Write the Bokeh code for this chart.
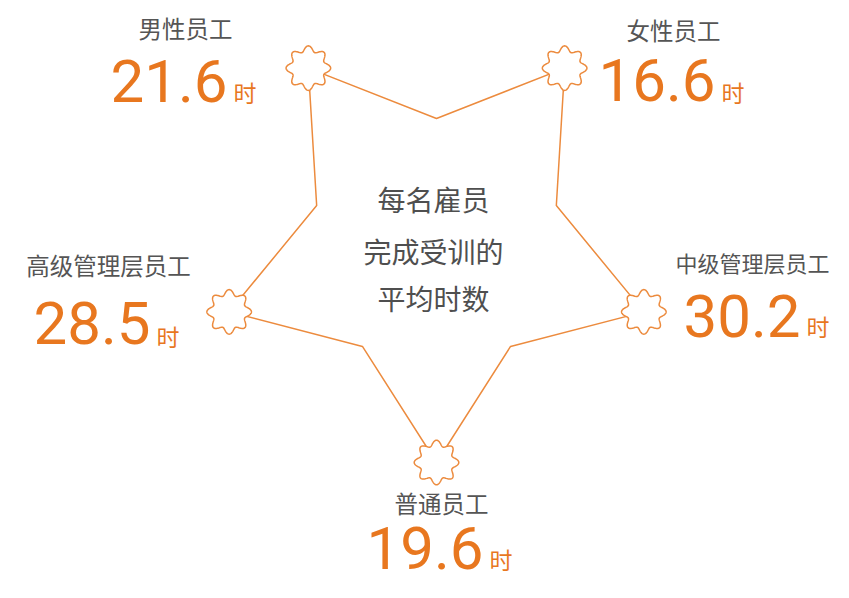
import numpy as np
from bokeh.plotting import figure
from bokeh.models import Range1d, ColumnDataSource
from bokeh.core.properties import value
from bokeh.embed import file_html
from bokeh.resources import INLINE

# ---- data ----
categories = ["男性员工", "女性员工", "中级管理层员工", "普通员工", "高级管理层员工"]
hours = [21.6, 16.6, 30.2, 19.6, 28.5]
unit = "时"
center_lines = ["每名雇员", "完成受训的", "平均时数"]

# ---- styles / layout ----
W, H = 833, 582
ORANGE = "#E8771F"
LINE = "#EC8B3E"
GRAY = "#555555"
CJK = "Noto Sans CJK SC"
NUM = "Roboto"

p = figure(width=W, height=H, output_backend="svg", toolbar_location=None,
           x_range=Range1d(0, W), y_range=Range1d(H, 0),
           min_border=0, outline_line_color=None)
p.axis.visible = False
p.grid.visible = False
p.background_fill_color = "white"

# star geometry (screen-pixel coordinates, y down)
cx, cy, R, r = 436, 244, 218, 126
# outer vertices order: top-left, top-right, right, bottom, left
outer_ang = np.deg2rad([234, 306, 18, 90, 162])
ox = cx + R * np.cos(outer_ang)
oy = cy + R * np.sin(outer_ang)
xs, ys = [], []
for i in range(5):
    xs.append(ox[i]); ys.append(oy[i])
    a = outer_ang[i] + np.deg2rad(36)
    xs.append(cx + r * np.cos(a)); ys.append(cy + r * np.sin(a))
xs.append(xs[0]); ys.append(ys[0])
p.line(xs, ys, line_color=LINE, line_width=1.5, line_join="round")

# badges
t = np.linspace(0, 2 * np.pi, 241)
rb = 19.5 + 2.8 * np.cos(8 * t)
for i in range(5):
    p.patch(ox[i] + rb * np.cos(t), oy[i] + rb * np.sin(t), fill_color="white",
            line_color=LINE, line_width=1.5)

# label placement: (label center x, label y, value-group center x, value center y, unit center y)
label_pos = [(185, 27, 185, 80, 91), (673, 29, 673, 79, 91), (752, 261, 758, 315, 325),
             (441, 502, 441, 547, 558), (108, 264, 108, 322, 335)]

lx = [a[0] for a in label_pos]
ly = [a[1] for a in label_pos]
gx = [a[2] for a in label_pos]
vy = [a[3] for a in label_pos]
uy = [a[4] for a in label_pos]

src = ColumnDataSource(dict(
    lx=lx, ly=ly, cat=categories,
    vx=[x + 42 for x in gx], vy=vy, val=[f"{h:.1f}" for h in hours],
    ux=[x + 48 for x in gx], uy=uy, unit=[unit] * 5,
    fs=["23.5px", "23.5px", "22px", "23.5px", "23.5px"],
))
p.text("lx", "ly", text="cat", source=src, text_font=value(CJK), text_font_size="fs",
       text_color=GRAY, text_align="center", text_baseline="middle")
p.text("vx", "vy", text="val", source=src, text_font=value(NUM), text_font_size="60px",
       text_color=ORANGE, text_align="right", text_baseline="middle")
p.text("ux", "uy", text="unit", source=src, text_font=value(CJK), text_font_size="23px",
       text_color=ORANGE, text_align="left", text_baseline="middle")

p.text(x=[433] * 3, y=[198, 250, 297], text=center_lines, text_font=value(CJK),
       text_font_size="28px", text_color="#4f4f4f", text_align="center",
       text_baseline="middle")

open("out.html", "w").write(file_html(p, INLINE))
